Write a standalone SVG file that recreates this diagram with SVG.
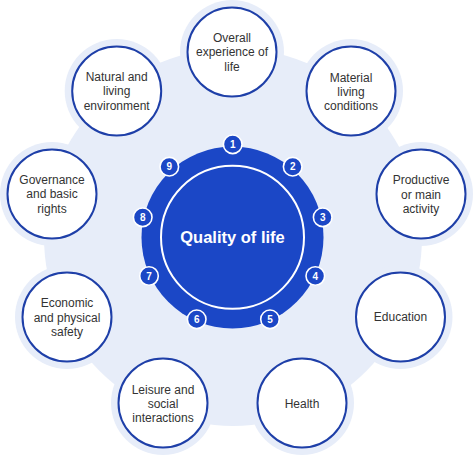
<svg xmlns="http://www.w3.org/2000/svg" width="474" height="456" viewBox="0 0 474 456">
<style>
.bg{fill:#e7edf9}
.node{fill:#ffffff;stroke:#1e3fa8;stroke-width:2}
.lbl{font-family:"Liberation Sans",Arial,sans-serif;font-size:12px;fill:#333333;text-anchor:middle}
.badge{fill:#1b47c6;stroke:#ffffff;stroke-width:1.6}
.num{font-family:"Liberation Sans",Arial,sans-serif;font-size:10px;font-weight:bold;fill:#ffffff;text-anchor:middle}
</style>
<rect width="474" height="456" fill="#ffffff"/>
<g id="background">
<circle class="bg" cx="233" cy="237" r="189"/>
<circle class="bg" cx="232" cy="52" r="52"/>
<circle class="bg" cx="351" cy="91" r="52"/>
<circle class="bg" cx="421" cy="194" r="52"/>
<circle class="bg" cx="400.5" cy="317" r="52"/>
<circle class="bg" cx="302" cy="403" r="52"/>
<circle class="bg" cx="163" cy="403" r="52"/>
<circle class="bg" cx="67" cy="317" r="52"/>
<circle class="bg" cx="52" cy="194" r="52"/>
<circle class="bg" cx="116.7" cy="91" r="52"/>
</g>
<g id="connectors"></g>
<g id="center">
<circle cx="232.5" cy="237.5" r="91" fill="#1b47c6"/>
<circle cx="232.5" cy="237.3" r="71.5" fill="none" stroke="#ffffff" stroke-width="2"/>
<text x="232.5" y="243.3" font-family="'Liberation Sans',Arial,sans-serif" font-size="16.5" font-weight="bold" fill="#ffffff" text-anchor="middle">Quality of life</text>
</g>
<g id="badges">
<g id="b1"><circle class="badge" cx="232.7" cy="144.3" r="9.3"/><text class="num" x="232.7" y="147.9">1</text></g>
<g id="b2"><circle class="badge" cx="292.7" cy="166.7" r="9.3"/><text class="num" x="292.7" y="170.3">2</text></g>
<g id="b3"><circle class="badge" cx="322.7" cy="217.3" r="9.3"/><text class="num" x="322.7" y="220.9">3</text></g>
<g id="b4"><circle class="badge" cx="315.3" cy="276" r="9.3"/><text class="num" x="315.3" y="279.6">4</text></g>
<g id="b5"><circle class="badge" cx="270" cy="319.3" r="9.3"/><text class="num" x="270" y="322.9">5</text></g>
<g id="b6"><circle class="badge" cx="196.7" cy="319.3" r="9.3"/><text class="num" x="196.7" y="322.9">6</text></g>
<g id="b7"><circle class="badge" cx="149" cy="276" r="9.3"/><text class="num" x="149" y="279.6">7</text></g>
<g id="b8"><circle class="badge" cx="142.7" cy="217.3" r="9.3"/><text class="num" x="142.7" y="220.9">8</text></g>
<g id="b9"><circle class="badge" cx="169.3" cy="166.7" r="9.3"/><text class="num" x="169.3" y="170.3">9</text></g>
</g>
<g id="n1"><circle class="node" cx="232" cy="52" r="44.5"/><text class="lbl" x="232"><tspan x="232" y="42">Overall</tspan><tspan x="232" y="56.3">experience of</tspan><tspan x="232" y="70.6">life</tspan></text></g>
<g id="n2"><circle class="node" cx="351" cy="91" r="44.5"/><text class="lbl" x="351"><tspan x="351" y="81.6">Material</tspan><tspan x="351" y="95.9">living</tspan><tspan x="351" y="110.2">conditions</tspan></text></g>
<g id="n3"><circle class="node" cx="421" cy="194" r="44.5"/><text class="lbl" x="421"><tspan x="421" y="184.3">Productive</tspan><tspan x="421" y="198.6">or main</tspan><tspan x="421" y="212.9">activity</tspan></text></g>
<g id="n4"><circle class="node" cx="400.5" cy="317" r="44.5"/><text class="lbl" x="400.5" y="321">Education</text></g>
<g id="n5"><circle class="node" cx="302" cy="403" r="44.5"/><text class="lbl" x="302" y="407.5">Health</text></g>
<g id="n6"><circle class="node" cx="163" cy="403" r="44.5"/><text class="lbl" x="163"><tspan x="163" y="393.5">Leisure and</tspan><tspan x="163" y="407.8">social</tspan><tspan x="163" y="422.1">interactions</tspan></text></g>
<g id="n7"><circle class="node" cx="67" cy="317" r="44.5"/><text class="lbl" x="67"><tspan x="67" y="307.3">Economic</tspan><tspan x="67" y="321.6">and physical</tspan><tspan x="67" y="335.9">safety</tspan></text></g>
<g id="n8"><circle class="node" cx="52" cy="194" r="44.5"/><text class="lbl" x="52"><tspan x="52" y="184">Governance</tspan><tspan x="52" y="198.3">and basic</tspan><tspan x="52" y="212.6">rights</tspan></text></g>
<g id="n9"><circle class="node" cx="116.7" cy="91" r="44.5"/><text class="lbl" x="116.7"><tspan x="116.7" y="81">Natural and</tspan><tspan x="116.7" y="95.3">living</tspan><tspan x="116.7" y="109.6">environment</tspan></text></g>
</svg>
